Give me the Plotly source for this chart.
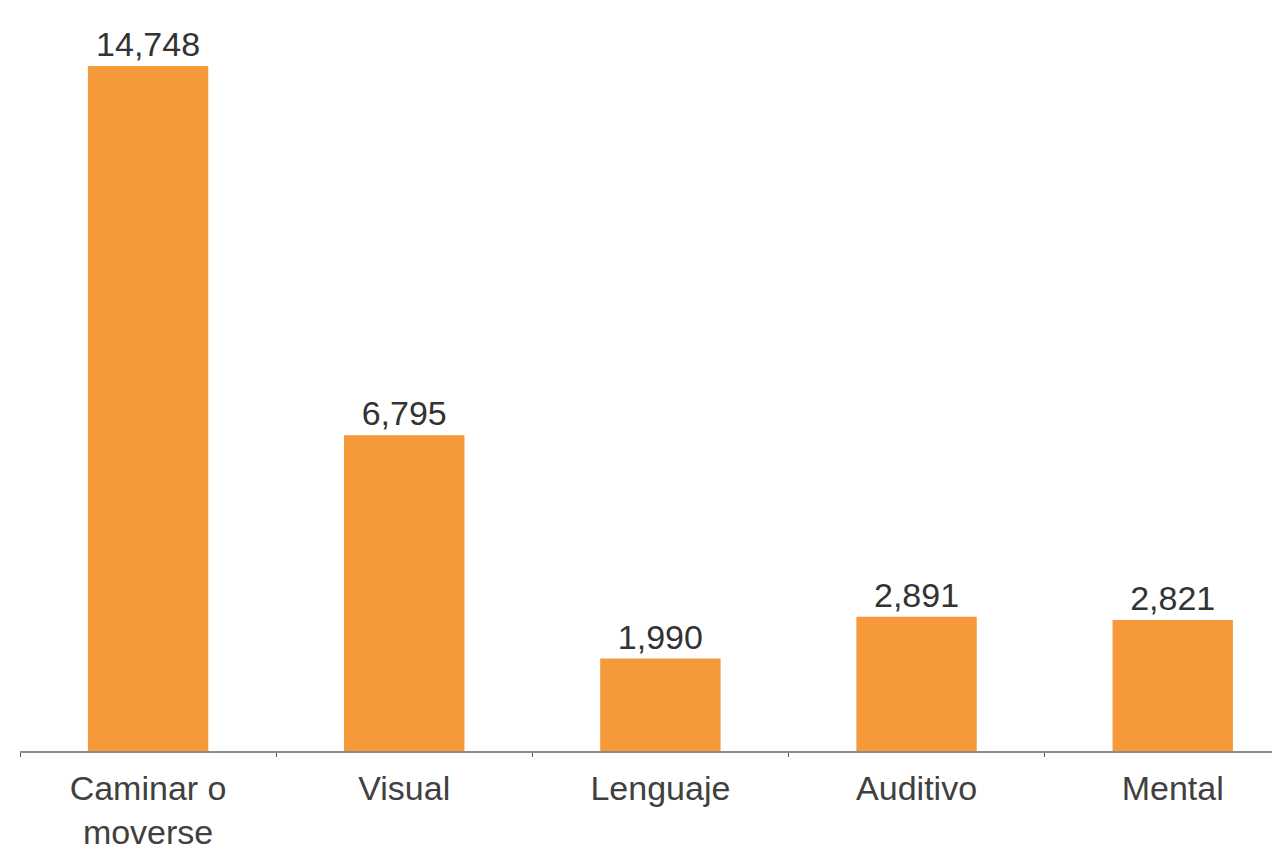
import plotly.graph_objects as go

categories = ["Caminar o<br>moverse", "Visual", "Lenguaje", "Auditivo", "Mental"]
values = [14748, 6795, 1990, 2891, 2821]

fig = go.Figure()
fig.add_trace(go.Bar(
    x=categories,
    y=values,
    width=0.47,
    marker=dict(color="#F5993A", line=dict(width=0)),
    text=values,
    texttemplate="%{y:,}",
    textposition="outside",
    textfont=dict(family="Liberation Sans", size=34, color="#333333"),
    cliponaxis=False,
))

fig.update_layout(
    width=1280,
    height=854,
    margin=dict(l=12, r=0, t=12, b=111),
    paper_bgcolor="white",
    plot_bgcolor="white",
    showlegend=False,
    bargap=0.5,
    xaxis=dict(
        type="category",
        range=[-0.5, 4.45],
        showline=True,
        linecolor="#8c8c8c",
        linewidth=2,
        ticks="outside",
        tickson="boundaries",
        ticklen=4,
        tickcolor="#555555",
        ticklabelstandoff=6,
        tickfont=dict(family="Liberation Sans", size=34, color="#404040"),
        showgrid=False,
    ),
    yaxis=dict(
        range=[0, 15737],
        visible=False,
        showgrid=False,
        zeroline=False,
    ),
)

fig.write_html("out.html")
